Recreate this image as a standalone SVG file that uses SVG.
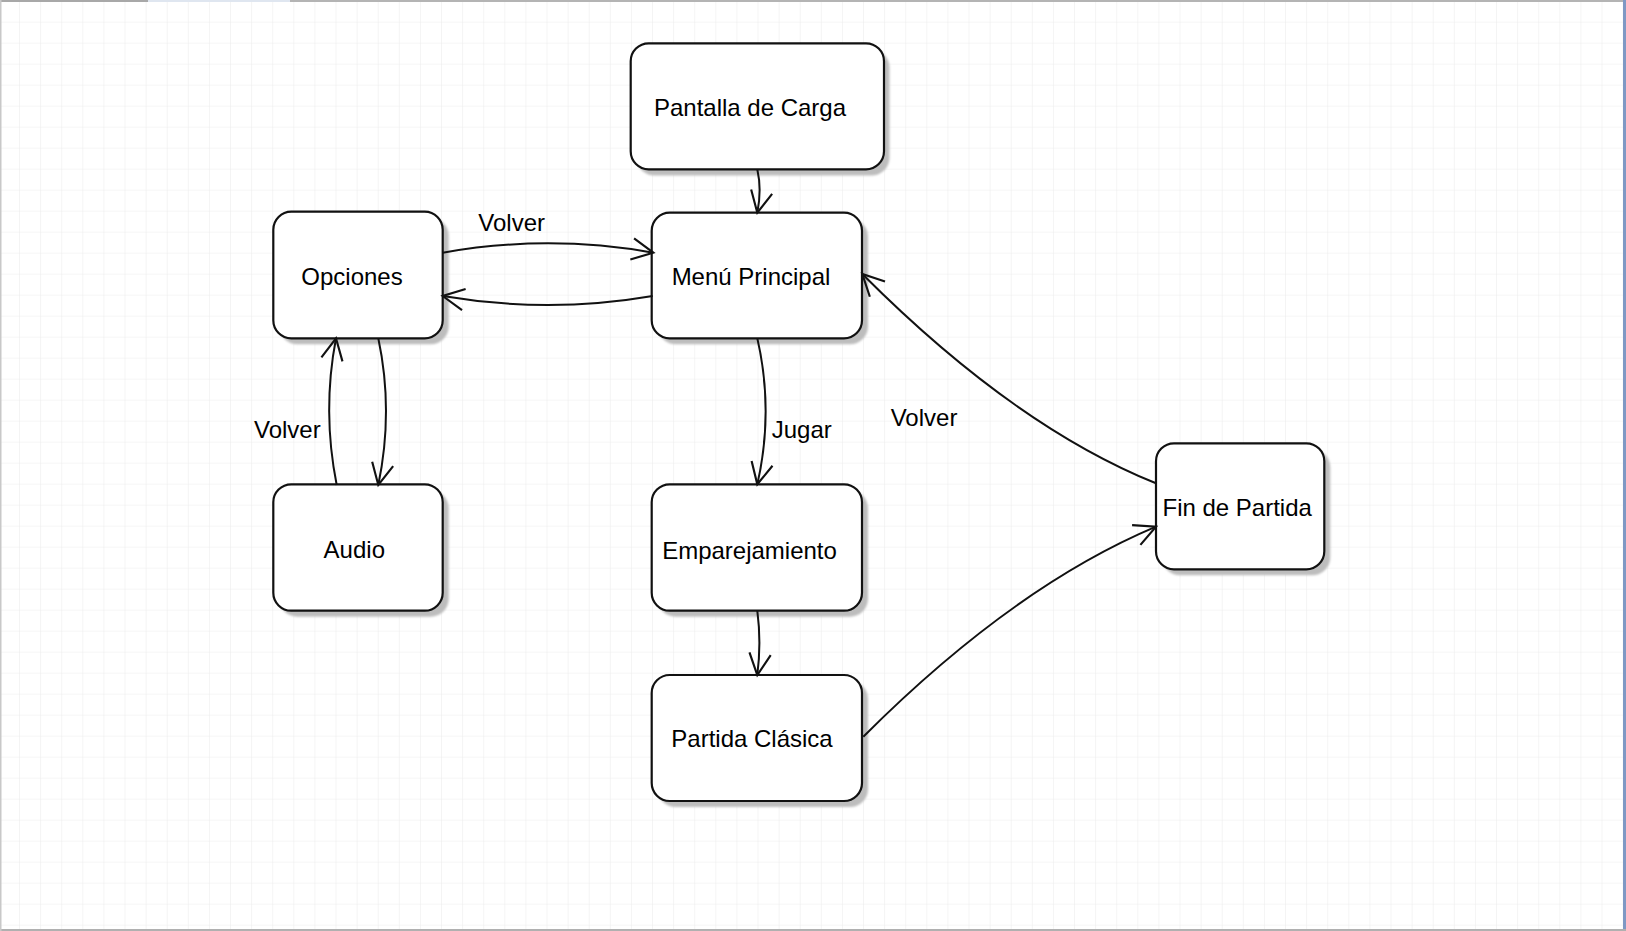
<svg xmlns="http://www.w3.org/2000/svg" width="1626" height="931" viewBox="0 0 1626 931">
<defs>
<pattern id="grid" x="-1.1" y="1.7" width="21.1" height="21" patternUnits="userSpaceOnUse">
<path d="M21.1 0 V21 M0 21 H21.1" fill="none" stroke="#ededed" stroke-width="1.2"/>
</pattern>
<filter id="sh" x="-10%" y="-10%" width="130%" height="130%">
<feGaussianBlur stdDeviation="1.3"/>
</filter>
<marker id="arr" markerUnits="userSpaceOnUse" markerWidth="30" markerHeight="30" viewBox="-24 -14 28 28" refX="0" refY="0" orient="auto">
<path d="M-20 -10 L0 0 L-20 10" fill="none" stroke="#111" stroke-width="2"/>
</marker>
</defs>
<style>
.box{fill:#fff;stroke:#111;stroke-width:2.2}
.shadow{fill:#bdbdbd;filter:url(#sh)}
.lbl{font-family:"Liberation Sans",Arial,sans-serif;font-size:24px;fill:#000}
.c{text-anchor:middle}
.edge{fill:none;stroke:#111;stroke-width:2;marker-end:url(#arr)}
</style>
<rect x="0" y="0" width="1626" height="931" fill="#fff"/>
<rect x="0" y="0" width="1626" height="931" fill="url(#grid)"/>
<rect x="0" y="0" width="148" height="2" fill="#a8a8a8"/>
<rect x="148" y="0" width="142" height="2" fill="#dfe6f0"/>
<rect x="290" y="0" width="1336" height="2" fill="#b4b4b4"/>
<rect x="1623" y="0" width="3" height="931" fill="#7f98c4"/>
<rect x="0" y="929" width="1626" height="2" fill="#b0b0b0"/>
<rect x="0" y="0" width="1.5" height="931" fill="#c8c8c8"/>

<g id="node-pantalla">
<rect class="shadow" x="636.5" y="49.5" width="253" height="126" rx="18"/>
<rect class="box" x="630.7" y="43.3" width="253.3" height="126" rx="18"/>
<text class="lbl c" x="750" y="116">Pantalla de Carga</text>
</g>
<g id="node-menu">
<rect class="shadow" x="657.7" y="218.7" width="210.3" height="125.6" rx="18"/>
<rect class="box" x="651.7" y="212.7" width="210.3" height="125.6" rx="18"/>
<text class="lbl c" x="751" y="285">Menú Principal</text>
</g>
<g id="node-opciones">
<rect class="shadow" x="279.3" y="217.7" width="169.4" height="126.6" rx="18"/>
<rect class="box" x="273.3" y="211.7" width="169.4" height="126.6" rx="18"/>
<text class="lbl c" x="352" y="285">Opciones</text>
</g>
<g id="node-audio">
<rect class="shadow" x="279.3" y="490.3" width="169.4" height="126.4" rx="18"/>
<rect class="box" x="273.3" y="484.3" width="169.4" height="126.4" rx="18"/>
<text class="lbl c" x="354.3" y="558.3">Audio</text>
</g>
<g id="node-emparejamiento">
<rect class="shadow" x="657.7" y="490.3" width="210.3" height="126.4" rx="18"/>
<rect class="box" x="651.7" y="484.3" width="210.3" height="126.4" rx="18"/>
<text class="lbl c" x="749.5" y="559.3">Emparejamiento</text>
</g>
<g id="node-partida">
<rect class="shadow" x="657.7" y="681" width="210.3" height="126" rx="18"/>
<rect class="box" x="651.7" y="675" width="210.3" height="126" rx="18"/>
<text class="lbl c" x="752" y="746.7">Partida Clásica</text>
</g>
<g id="node-fin">
<rect class="shadow" x="1162" y="449.3" width="168.3" height="126" rx="18"/>
<rect class="box" x="1156" y="443.3" width="168.3" height="126" rx="18"/>
<text class="lbl c" x="1237.2" y="516">Fin de Partida</text>
</g>

<g id="connectors">
<path class="edge" d="M757.3 169.3 Q762 190 757.3 212.7"/>
<path class="edge" d="M442.7 252.7 Q548 234 653.3 252.7"/>
<path class="edge" d="M652.7 296 Q548 314 442.7 296"/>
<path class="edge" d="M336.7 485 Q322 411 336 338.3"/>
<path class="edge" d="M378.3 338.3 Q393.7 411 378.3 485"/>
<path class="edge" d="M757.3 338.3 Q774 411 757.3 484.3"/>
<path class="edge" d="M757.3 610.7 Q761.5 643 757.3 675"/>
<path class="edge" d="M1156 483.3 Q1014 426 862.3 274"/>
<path class="edge" d="M863.3 736.7 Q1013 587 1156 526.7"/>
<text class="lbl" x="478.3" y="230.7">Volver</text>
<text class="lbl" x="254" y="438.3">Volver</text>
<text class="lbl" x="771.7" y="438.3">Jugar</text>
<text class="lbl" x="890.7" y="426">Volver</text>
</g>
</svg>
